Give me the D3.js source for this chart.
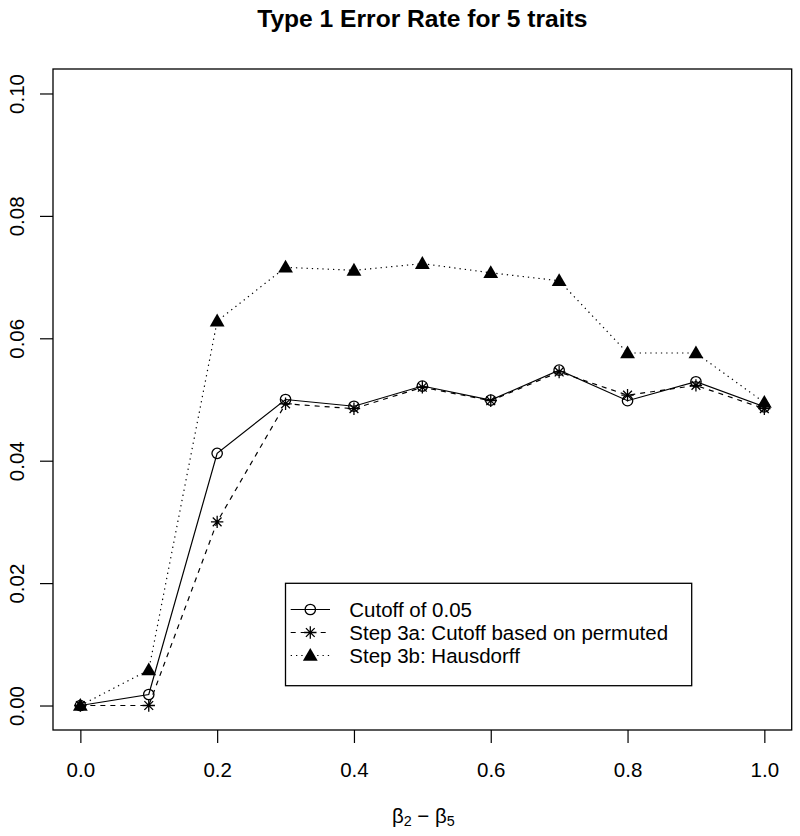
<!DOCTYPE html>
<html>
<head>
<meta charset="utf-8">
<script src="https://cdn.jsdelivr.net/npm/d3@7"></script>
<style>
  html, body { margin: 0; padding: 0; background: #fff; }
  svg { display: block; }
  text { font-family: "Liberation Sans", Arial, Helvetica, sans-serif; fill: #000; }
</style>
</head>
<body>
<svg id="chart" width="800" height="836"></svg>
<script>
// ---- data ----
const xValues = [0.0, 0.1, 0.2, 0.3, 0.4, 0.5, 0.6, 0.7, 0.8, 0.9, 1.0];
const cutoff005 = [0.0000, 0.0018, 0.0412, 0.0500, 0.0489, 0.0522, 0.0499, 0.0548, 0.0498, 0.0529, 0.0488];
const step3a    = [0.0000, 0.0000, 0.0300, 0.0493, 0.0485, 0.0520, 0.0498, 0.0545, 0.0507, 0.0523, 0.0485];
const step3b    = [0.0000, 0.0058, 0.0628, 0.0716, 0.0711, 0.0722, 0.0707, 0.0694, 0.0576, 0.0576, 0.0495];
const xTicks = [0.0, 0.2, 0.4, 0.6, 0.8, 1.0];
const yTicks = [0.00, 0.02, 0.04, 0.06, 0.08, 0.10];
const legendLabels = ["Cutoff of 0.05", "Step 3a: Cutoff based on permuted", "Step 3b: Hausdorff"];
const titleText = "Type 1 Error Rate for 5 traits";

// ---- layout ----
const box = { left: 53, right: 791.7, top: 69, bottom: 730 };
const fs = 20.5;
const svg = d3.select("#chart");

const x = d3.scaleLinear().domain([-0.04, 1.04]).range([box.left, box.right]);
const y = d3.scaleLinear().domain([-0.004, 0.104]).range([box.bottom, box.top]);

// title
svg.append("text")
  .attr("x", (box.left + box.right) / 2)
  .attr("y", 27)
  .attr("text-anchor", "middle")
  .attr("font-weight", "bold")
  .attr("font-size", fs * 1.2)
  .text(titleText);

// x axis
const gx = svg.append("g")
  .attr("transform", `translate(0,${box.bottom})`)
  .call(d3.axisBottom(x).tickValues(xTicks).tickFormat(d3.format(".1f")).tickSize(13).tickPadding(19));
gx.select(".domain").remove();
gx.selectAll("line").attr("stroke", "#000").attr("stroke-width", 1.2);
gx.selectAll("text").attr("font-size", fs).attr("font-family", null).attr("fill", "#000");

// y axis
const gy = svg.append("g")
  .attr("transform", `translate(${box.left},0)`)
  .call(d3.axisLeft(y).tickValues(yTicks).tickFormat(d3.format(".2f")).tickSize(13));
gy.select(".domain").remove();
gy.selectAll("line").attr("stroke", "#000").attr("stroke-width", 1.2);
gy.selectAll("text")
  .attr("font-size", fs).attr("font-family", null).attr("fill", "#000")
  .attr("x", null).attr("dy", null)
  .attr("text-anchor", "middle")
  .attr("transform", "translate(-29,0) rotate(-90)");

// box
svg.append("rect")
  .attr("x", box.left).attr("y", box.top)
  .attr("width", box.right - box.left).attr("height", box.bottom - box.top)
  .attr("fill", "none").attr("stroke", "#000").attr("stroke-width", 1.3);

// x label: beta_2 - beta_5
const xl = svg.append("text")
  .attr("x", (box.left + box.right) / 2 + 1)
  .attr("y", 823)
  .attr("text-anchor", "middle")
  .attr("font-size", fs);
xl.append("tspan").text("β");
xl.append("tspan").attr("dy", 3).attr("font-size", fs * 0.7).text("2");
xl.append("tspan").attr("dy", -3).text(" − β");
xl.append("tspan").attr("dy", 3).attr("font-size", fs * 0.7).text("5");

// series
const series = [
  { vals: cutoff005, dash: null, sym: "circle" },
  { vals: step3a, dash: "5,5", sym: "star" },
  { vals: step3b, dash: "1.3,4", sym: "triangle" }
];

const line = d3.line().x(d => x(d[0])).y(d => y(d[1]));

function drawSymbol(g, sym, cx, cy) {
  if (sym === "circle") {
    g.append("circle").attr("cx", cx).attr("cy", cy).attr("r", 5.2)
      .attr("fill", "none").attr("stroke", "#000").attr("stroke-width", 1.3);
  } else if (sym === "star") {
    const r = 6.2, d = r * 0.7071;
    const p = `M${cx - r},${cy}L${cx + r},${cy}M${cx},${cy - r}L${cx},${cy + r}` +
              `M${cx - d},${cy - d}L${cx + d},${cy + d}M${cx - d},${cy + d}L${cx + d},${cy - d}`;
    g.append("path").attr("d", p).attr("stroke", "#000").attr("stroke-width", 1.3).attr("fill", "none");
  } else {
    const s = d3.symbol().type(d3.symbolTriangle).size(95);
    g.append("path").attr("d", s()).attr("transform", `translate(${cx},${cy + 1})`).attr("fill", "#000");
  }
}

const plot = svg.append("g");
series.forEach(s => {
  const pts = xValues.map((xv, i) => [xv, s.vals[i]]);
  plot.append("path").datum(pts).attr("d", line)
    .attr("fill", "none").attr("stroke", "#000").attr("stroke-width", 1.2)
    .attr("stroke-dasharray", s.dash);
  pts.forEach(p => drawSymbol(plot, s.sym, x(p[0]), y(p[1])));
});

// legend
const lg = { left: 285.5, top: 583.3, right: 691.7, bottom: 685.7 };
svg.append("rect")
  .attr("x", lg.left).attr("y", lg.top)
  .attr("width", lg.right - lg.left).attr("height", lg.bottom - lg.top)
  .attr("fill", "#fff").attr("stroke", "#000").attr("stroke-width", 1.3);
const rowY = [609.5, 632.5, 655.5];
series.forEach((s, i) => {
  const cy = rowY[i];
  svg.append("line").attr("x1", 290.7).attr("x2", 330).attr("y1", cy).attr("y2", cy)
    .attr("stroke", "#000").attr("stroke-width", 1.2).attr("stroke-dasharray", s.dash);
  drawSymbol(svg, s.sym, 310.3, cy);
  svg.append("text").attr("x", 349.3).attr("y", cy).attr("dy", "0.36em")
    .attr("font-size", fs).text(legendLabels[i]);
});
</script>
</body>
</html>
